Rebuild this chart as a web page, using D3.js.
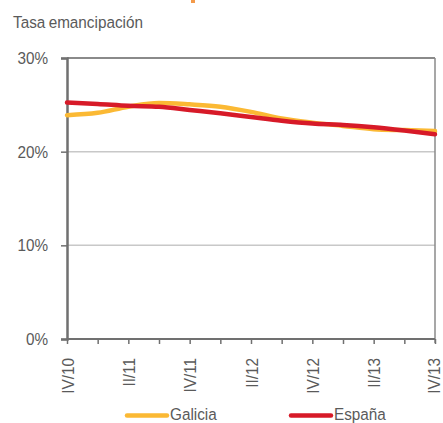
<!DOCTYPE html>
<html><head><meta charset="utf-8">
<script src="https://cdn.jsdelivr.net/npm/d3@7"></script>
<style>body{margin:0;background:#fff}svg{display:block}text{font-family:"Liberation Sans",Arial,sans-serif;fill:#5a5a5a}</style>
</head><body><svg id="c" width="443" height="423"></svg>
<script>
const quarters = ["IV/10","I/11","II/11","III/11","IV/11","I/12","II/12","III/12","IV/12","I/13","II/13","III/13","IV/13"];
const galicia = [23.9,24.15,24.8,25.2,25.05,24.8,24.25,23.55,23.1,22.75,22.4,22.3,22.2];
const espana = [25.25,25.1,24.9,24.8,24.45,24.1,23.7,23.3,23.0,22.85,22.6,22.25,21.85];
const yTicks = [0,10,20,30];
const labelQuarters = ["IV/10","II/11","IV/11","II/12","IV/12","II/13","IV/13"];
const seriesNames = ["Galicia","España"];
const colors = ["#fbb934","#d71a28"];

const SX = 0.9, FS = 17;
const svg = d3.select("#c");
const L=67,R=435,T=58,B=339;
const x = d3.scalePoint().domain(quarters).range([L,R]);
const y = d3.scaleLinear().domain([0,30]).range([B,T]);

// orange fragment at top (cut-off heading)
svg.append("rect").attr("x",191).attr("y",0).attr("width",4).attr("height",3).attr("fill","#f39a4a");

svg.append("text").attr("transform",`translate(13,28) scale(${SX},1)`).attr("font-size",FS).attr("word-spacing","-1px").text("Tasa emancipación");

// gridlines
svg.append("g").selectAll("line").data(yTicks.filter(d=>d>0)).join("line")
  .attr("x1",L).attr("x2",R).attr("y1",d=>y(d)).attr("y2",d=>y(d))
  .attr("stroke",d=>d===30?"#8a8a8a":"#c8c8c8").attr("stroke-width",d=>d===30?2:1.5);
// right border
svg.append("line").attr("x1",R).attr("x2",R).attr("y1",T).attr("y2",B+4).attr("stroke","#8a8a8a").attr("stroke-width",1.5);

// y axis
const yAx = svg.append("g").attr("transform",`translate(${L},0)`)
  .call(d3.axisLeft(y).tickValues(yTicks).tickSize(6).tickFormat(d=>d+"%"));
yAx.select(".domain").attr("stroke","#707070").attr("stroke-width",2.5);
yAx.selectAll(".tick line").attr("stroke","#707070").attr("stroke-width",1.5);
yAx.selectAll(".tick text").attr("font-size",FS).attr("fill","#5a5a5a").attr("x",0).attr("dy","0.32em")
  .attr("transform",`translate(-19,0) scale(${SX},1)`)
  .attr("font-family","'Liberation Sans',Arial,sans-serif");

// x axis
const xAx = svg.append("g").attr("transform",`translate(0,${B})`)
  .call(d3.axisBottom(x).tickSize(5).tickFormat(d=>labelQuarters.includes(d)?d:""));
xAx.select(".domain").attr("stroke","#707070").attr("stroke-width",2).attr("d",`M${L},0H${R}`);
xAx.selectAll(".tick line").attr("stroke","#707070").attr("stroke-width",1.5);
xAx.selectAll(".tick text").attr("font-size",FS).attr("fill","#5a5a5a")
  .attr("transform",(d,i)=>`translate(${i===quarters.length-1?-2:0},19) rotate(-90) scale(${SX},1)`).attr("text-anchor","end").attr("x",0).attr("y",0).attr("dy","0.36em")
  .attr("font-family","'Liberation Sans',Arial,sans-serif");

const line = d3.line().x((d,i)=>x(quarters[i])).y(d=>y(d)).curve(d3.curveMonotoneX);
[galicia,espana].forEach((s,k)=>{
  svg.append("path").datum(s).attr("d",line).attr("fill","none").attr("stroke",colors[k]).attr("stroke-width",4.5).attr("stroke-linecap","round");
});

// legend
const lg = [{x:127},{x:291}];
seriesNames.forEach((n,k)=>{
  svg.append("line").attr("x1",lg[k].x).attr("x2",lg[k].x+40).attr("y1",415.5).attr("y2",415.5)
    .attr("stroke",colors[k]).attr("stroke-width",4.5).attr("stroke-linecap","round");
  svg.append("text").attr("transform",`translate(${lg[k].x+43},419.5) scale(${SX},1)`).attr("font-size",FS).text(n);
});
</script></body></html>
